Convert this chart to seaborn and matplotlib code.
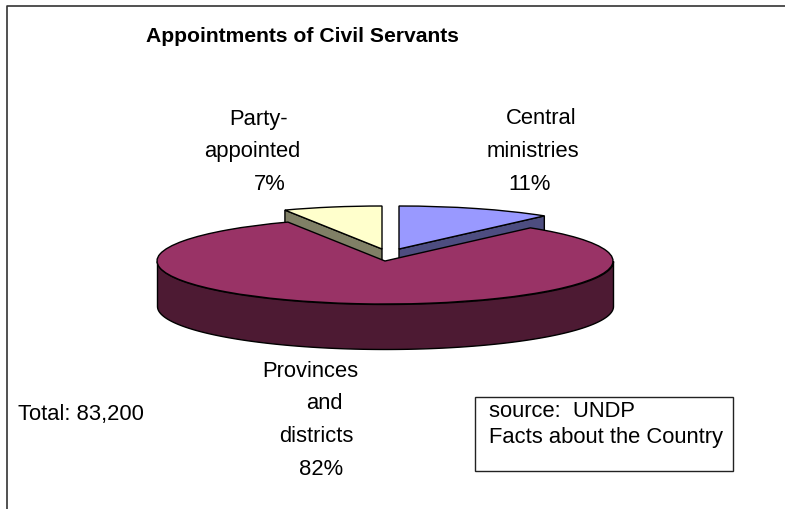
import numpy as np
import seaborn as sns
import matplotlib.pyplot as plt
from matplotlib.colors import to_rgb
from matplotlib.patches import Polygon, Rectangle

categories = ["Central ministries", "Provinces and districts", "Party-appointed"]
shares = [11, 82, 7]
slice_colors = ["#9999FF", "#993366", "#FFFFCC"]
title = "Appointments of Civil Servants"
total_label = "Total: 83,200"
source_lines = ["source:  UNDP", "Facts about the Country"]

W, H = 785, 510
# pie geometry in pixels
cx, cy = 385, 262
rx, ry = 228, 43
depth = 45
pull = [(14, 12), (0, 0), (-3, 12)]

sns.set_theme(style="white")
plt.rcParams["font.family"] = ["Liberation Sans", "DejaVu Sans"]

fig = plt.figure(figsize=(W / 100, H / 100), dpi=100)
ax = fig.add_axes([0, 0, 1, 1])
wedges, _ = ax.pie(shares, colors=slice_colors, startangle=90, counterclock=False,
                   wedgeprops={"edgecolor": "black", "linewidth": 1})
ax.set_aspect("auto")
ax.set_xlim(-cx / rx, (W - cx) / rx)
ax.set_ylim((cy - H) / ry, cy / ry)
ax.axis("off")

d = depth / ry
for i, w in enumerate(wedges):
    w.set_center((pull[i][0] / rx, pull[i][1] / ry))
    wall = tuple(c * 0.5 for c in to_rgb(slice_colors[i]))
    ox, oy = w.center
    if i == 1:
        # outer wall of the big slice, front half only
        t = np.radians(np.linspace(-180, 0, 180))
        x = ox + np.cos(t)
        y = oy + np.sin(t)
        ax.fill_between(x, y, y - d, color=wall, ec="black", lw=1, zorder=2)
        w.set_zorder(3)
    else:
        # cut face that looks to the front
        a = np.radians(w.theta1 if i == 0 else w.theta2)
        ex, ey = ox + np.cos(a), oy + np.sin(a)
        ax.add_patch(Polygon([(ox, oy), (ex, ey), (ex, ey - d), (ox, oy - d)],
                             fc=wall, ec="black", lw=1, zorder=1))
        w.set_zorder(2)

# text layer in pixel coordinates
top = fig.add_axes([0, 0, 1, 1])
top.set_xlim(0, W)
top.set_ylim(H, 0)
top.axis("off")
top.patch.set_alpha(0)

top.plot([6.5, 6.5, W + 5], [H + 5, 6.5, 6.5], color="#333333", lw=1.2, clip_on=False)
top.text(302, 36, title, fontsize=15.2, fontweight="bold", ha="center", va="center", color="black")

fs = 15.8
label_lines = [
    (["Party-", "appointed", "7%"], [259, 252, 270], [119, 152, 185]),
    (["Central", "ministries", "11%"], [541, 533, 530], [119, 152, 185]),
    (["Provinces", "and", "districts", "82%"], [310, 324, 316, 321], [372, 404, 437, 470]),
]
for lines, xs, ys in label_lines:
    for s, x, y in zip(lines, xs, ys):
        top.text(x, y, s, fontsize=fs, ha="center", va="center", color="black")

top.text(18, 415, total_label, fontsize=fs, ha="left", va="center", color="black")
top.add_patch(Rectangle((475, 398), 258, 74, fc="white", ec="#222222", lw=1))
for s, y in zip(source_lines, [412, 438]):
    top.text(489, y, s, fontsize=fs, ha="left", va="center", color="black")

plt.savefig("out.png", dpi=100)
